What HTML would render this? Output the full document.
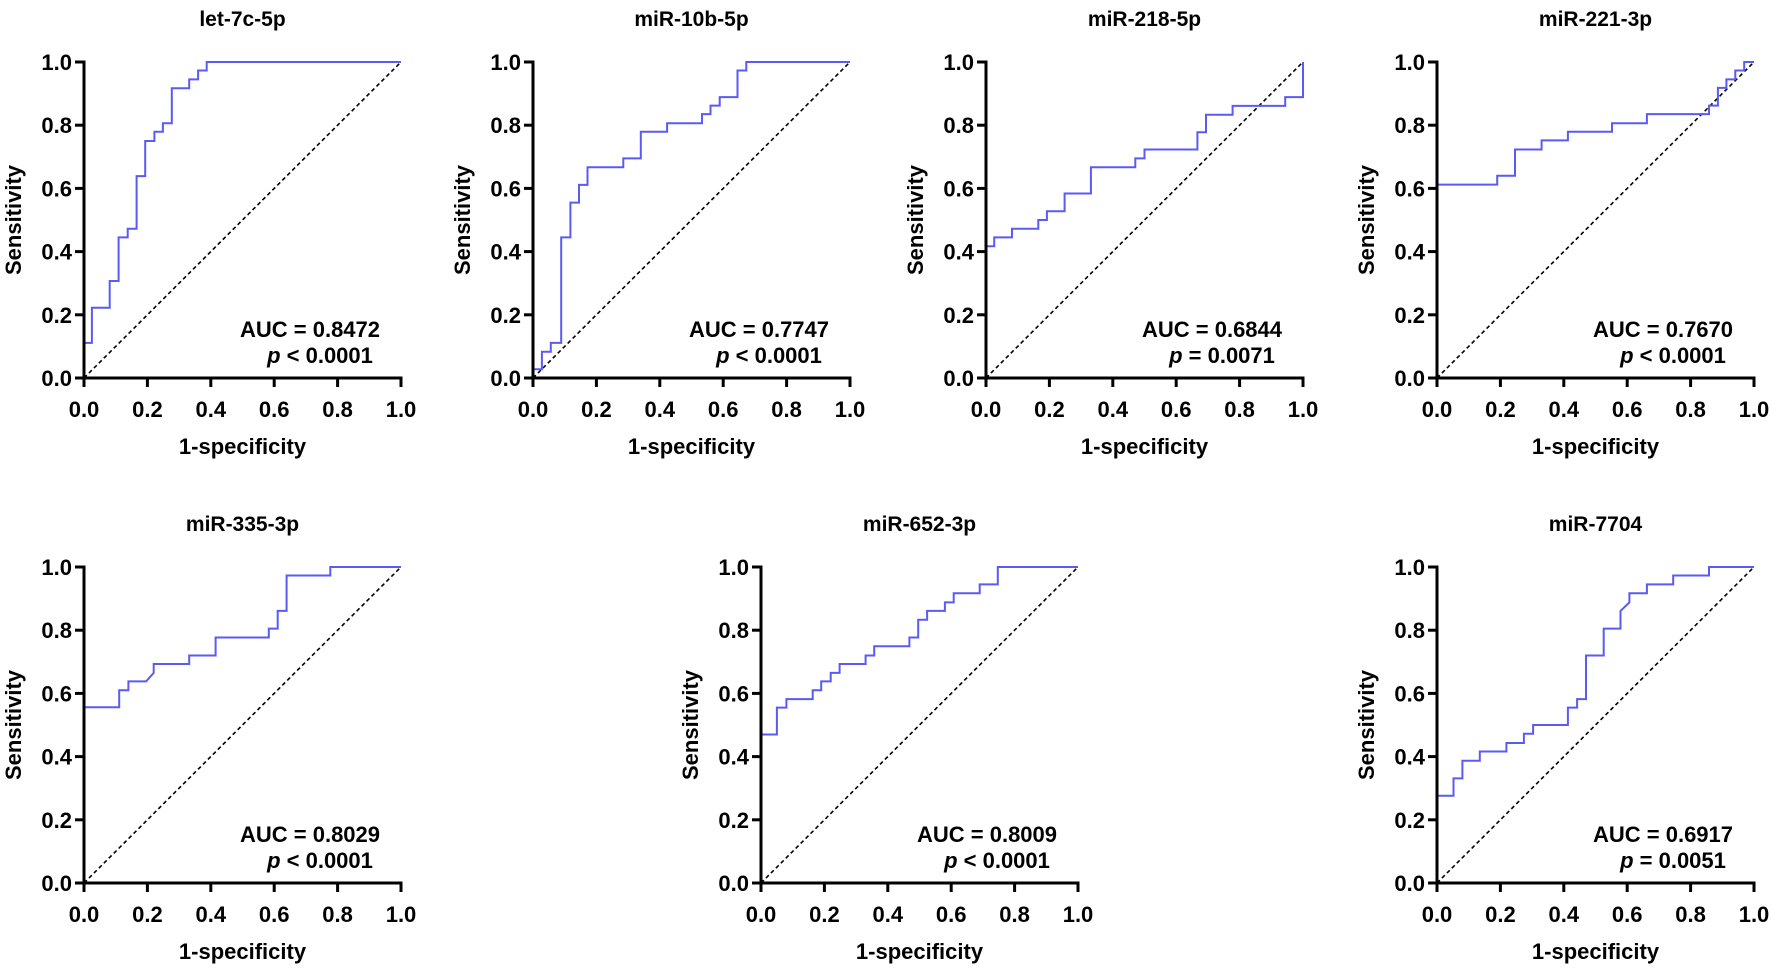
<!DOCTYPE html>
<html><head><meta charset="utf-8"><style>
html,body{margin:0;padding:0;background:#fff;}
svg{display:block;font-family:"Liberation Sans",Arial,sans-serif;font-weight:bold;}
</style></head><body>
<svg id="fig" width="1772" height="969" viewBox="0 0 1772 969" xmlns="http://www.w3.org/2000/svg"></svg>
<script>
const titles = ["let-7c-5p","miR-10b-5p","miR-218-5p","miR-221-3p","miR-335-3p","miR-652-3p","miR-7704"];
const aucs = ["0.8472","0.7747","0.6844","0.7670","0.8029","0.8009","0.6917"];
const pvals = ["< 0.0001","< 0.0001","= 0.0071","< 0.0001","< 0.0001","< 0.0001","= 0.0051"];
const ticks = [0,0.2,0.4,0.6,0.8,1.0];
const tickLabels = ["0.0","0.2","0.4","0.6","0.8","1.0"];
const fpr1 = [0,0,0.025,0.025,0.081,0.081,0.109,0.109,0.138,0.138,0.166,0.166,0.193,0.193,0.222,0.222,0.249,0.249,0.277,0.277,0.332,0.332,0.36,0.36,0.387,0.387,1];
const tpr1 = [0,0.111,0.111,0.222,0.222,0.307,0.307,0.445,0.445,0.472,0.472,0.639,0.639,0.75,0.75,0.779,0.779,0.806,0.806,0.917,0.917,0.945,0.945,0.973,0.973,1,1];
const fpr2 = [0,0,0.028,0.028,0.056,0.056,0.089,0.089,0.118,0.118,0.145,0.145,0.172,0.172,0.285,0.285,0.34,0.34,0.423,0.423,0.533,0.533,0.56,0.56,0.589,0.589,0.645,0.645,0.673,0.673,1];
const tpr2 = [0,0.028,0.028,0.083,0.083,0.111,0.111,0.445,0.445,0.555,0.555,0.611,0.611,0.667,0.667,0.695,0.695,0.779,0.779,0.806,0.806,0.835,0.835,0.862,0.862,0.889,0.889,0.973,0.973,1,1];
const fpr3 = [0,0,0.026,0.026,0.082,0.082,0.165,0.165,0.192,0.192,0.248,0.248,0.331,0.331,0.471,0.471,0.5,0.5,0.667,0.667,0.694,0.694,0.778,0.778,0.944,0.944,1,1];
const tpr3 = [0,0.417,0.417,0.445,0.445,0.472,0.472,0.5,0.5,0.528,0.528,0.584,0.584,0.667,0.667,0.695,0.695,0.723,0.723,0.778,0.778,0.833,0.833,0.861,0.861,0.889,0.889,1];
const fpr4 = [0,0,0.19,0.19,0.246,0.246,0.33,0.33,0.413,0.413,0.552,0.552,0.662,0.662,0.858,0.858,0.886,0.886,0.913,0.913,0.941,0.941,0.969,0.969,1];
const tpr4 = [0,0.612,0.612,0.64,0.64,0.723,0.723,0.752,0.752,0.779,0.779,0.806,0.806,0.835,0.835,0.862,0.862,0.918,0.918,0.945,0.945,0.973,0.973,1,1];
const fpr5 = [0,0,0.111,0.111,0.14,0.14,0.196,0.22,0.22,0.332,0.332,0.415,0.415,0.583,0.583,0.611,0.611,0.639,0.639,0.777,0.777,1];
const tpr5 = [0,0.556,0.556,0.61,0.61,0.638,0.638,0.665,0.693,0.693,0.72,0.72,0.777,0.777,0.805,0.805,0.861,0.861,0.973,0.973,1,1];
const fpr6 = [0,0,0.05,0.05,0.08,0.08,0.163,0.163,0.19,0.19,0.22,0.22,0.248,0.248,0.33,0.33,0.357,0.357,0.468,0.468,0.496,0.496,0.524,0.524,0.58,0.58,0.608,0.608,0.69,0.69,0.747,0.747,1];
const tpr6 = [0,0.47,0.47,0.555,0.555,0.582,0.582,0.61,0.61,0.638,0.638,0.665,0.665,0.693,0.693,0.72,0.72,0.749,0.749,0.777,0.777,0.833,0.833,0.861,0.861,0.888,0.888,0.917,0.917,0.945,0.945,1,1];
const fpr7 = [0,0,0.052,0.052,0.08,0.08,0.135,0.135,0.219,0.219,0.274,0.274,0.303,0.303,0.413,0.413,0.442,0.442,0.47,0.47,0.526,0.526,0.579,0.579,0.607,0.607,0.662,0.662,0.745,0.745,0.858,0.858,1];
const tpr7 = [0,0.276,0.276,0.331,0.331,0.387,0.387,0.416,0.416,0.443,0.443,0.472,0.472,0.5,0.5,0.555,0.555,0.582,0.582,0.72,0.72,0.805,0.805,0.861,0.888,0.917,0.917,0.945,0.945,0.973,0.973,1,1];
const fprs=[fpr1,fpr2,fpr3,fpr4,fpr5,fpr6,fpr7];
const tprs=[tpr1,tpr2,tpr3,tpr4,tpr5,tpr6,tpr7];

const origins=[[84,62],[533,62],[986,62],[1437,62],[84,567],[761,567],[1437,567]];
const W=317,H=316;
const NS="http://www.w3.org/2000/svg";
const svg=document.getElementById('fig');
function mk(tag,attrs,parent,text){const e=document.createElementNS(NS,tag);for(const k in attrs)e.setAttribute(k,attrs[k]);if(text!==undefined)e.textContent=text;(parent||svg).appendChild(e);return e;}

titles.forEach((t,i)=>{
  const [x0,y0]=origins[i];
  const sx=v=>x0+v*W, sy=v=>y0+H-v*H;
  const g=mk('g',{});
  
  
  const tt=mk('text',{x:x0+W/2,y:y0-36,'text-anchor':'middle','font-size':21},g,t);
  
  
  const d=mk('line',{x1:sx(0),y1:sy(0),x2:sx(1),y2:sy(1),stroke:'#000','stroke-width':1.6,'stroke-dasharray':'4 3'},g);
  
  
  const pts=fprs[i].map((f,j)=>sx(f).toFixed(1)+','+sy(tprs[i][j]).toFixed(1)).join(' ');
  const c=mk('polyline',{points:pts,fill:'none',stroke:'#5a5af5','stroke-width':2},g);
  
  
  const ax=mk('path',{d:`M${x0} ${y0-1.5}V${y0+H}H${x0+W+1.5}`,fill:'none',stroke:'#000','stroke-width':3},g);
  
  
  ticks.forEach((v,k)=>{
    mk('line',{x1:x0-9,x2:x0,y1:sy(v),y2:sy(v),stroke:'#000','stroke-width':3},g);
    mk('line',{x1:sx(v),x2:sx(v),y1:y0+H,y2:y0+H+9,stroke:'#000','stroke-width':3},g);
    const yl=mk('text',{x:x0-12,y:sy(v)+8,'text-anchor':'end','font-size':22},g,tickLabels[k]);
    
    
    const xl=mk('text',{x:sx(v),y:y0+H+39,'text-anchor':'middle','font-size':22},g,tickLabels[k]);
    
    
  });
  const xt=mk('text',{x:x0+W/2,y:y0+H+76,'text-anchor':'middle','font-size':22},g,'1-specificity');
  
  
  const yt=mk('text',{x:0,y:0,'text-anchor':'middle','font-size':22,transform:`translate(${x0-63},${y0+H/2}) rotate(-90)`},g,'Sensitivity');
  
  
  const a=mk('text',{x:x0+226,y:y0+H-41,'text-anchor':'middle','font-size':22},g,'AUC = '+aucs[i]);
  
  
  const p=mk('text',{x:x0+236,y:y0+H-15,'text-anchor':'middle','font-size':22},g);
  
  
  mk('tspan',{'font-style':'italic'},p,'p');
  mk('tspan',{},p,' '+pvals[i]);
});
</script>
</body></html>
